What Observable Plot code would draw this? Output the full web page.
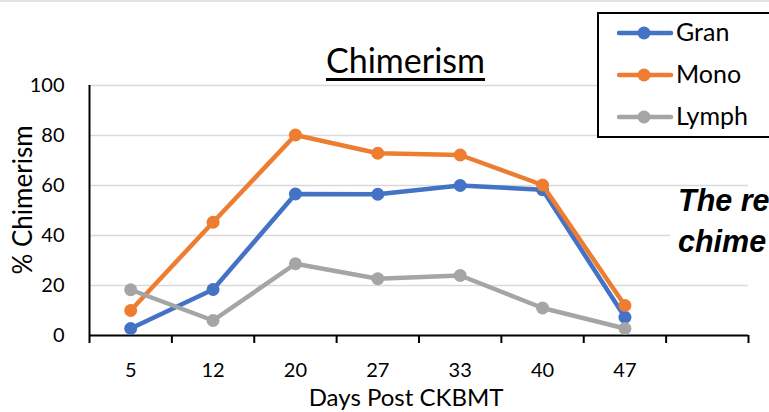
<!DOCTYPE html>
<html><head><meta charset="utf-8">
<script src="https://cdn.jsdelivr.net/npm/d3@7"></script>
<script src="https://cdn.jsdelivr.net/npm/@observablehq/plot@0.6"></script>
<style>
html,body{margin:0;padding:0;background:#fff;overflow:hidden;}
#wrap{position:relative;width:769px;height:412px;overflow:hidden;font-family:Lato,"Open Sans",sans-serif;color:#000;background:#fff;}
#wrap > svg{position:absolute;left:0;top:0;}
.abs{position:absolute;white-space:nowrap;line-height:1;}
</style></head><body><div id="wrap"></div>
<script>
// ---- data ----
const categories = ["5","12","20","27","33","40","47",""];
const gran  = [2.8, 18.4, 56.6, 56.5, 60.0, 58.3, 7.3];
const mono  = [10.0, 45.3, 80.2, 72.9, 72.2, 60.2, 12.0];
const lymph = [18.3, 6.0, 28.7, 22.7, 24.0, 11.0, 2.8];
const yTicks = [0, 20, 40, 60, 80, 100];
const seriesNames = ["Gran", "Mono", "Lymph"];
const seriesColors = ["#4472C4", "#ED7D31", "#A5A5A5"];
const seriesValues = [gran, mono, lymph];

const rows = seriesNames.map((name, s) =>
  seriesValues[s].map((v, i) => ({series: name, idx: i + 0.5, value: v})));

const wrap = document.getElementById("wrap");

const seriesMarks = [];
seriesNames.forEach((name, s) => {
  seriesMarks.push(Plot.line(rows[s], {x: "idx", y: "value", stroke: seriesColors[s], strokeWidth: 4.5, strokeLinejoin: "round", strokeLinecap: "round"}));
  seriesMarks.push(Plot.dot(rows[s], {x: "idx", y: "value", r: 6.5, fill: seriesColors[s], stroke: "none"}));
});

const chart = Plot.plot({
  width: 769, height: 412,
  marginLeft: 89, marginRight: 21, marginTop: 85, marginBottom: 77,
  style: {fontFamily: "Lato, 'Open Sans', sans-serif", fontSize: "20px", color: "#000", background: "transparent", overflow: "visible"},
  x: {type: "linear", domain: [0, categories.length]},
  y: {domain: [0, 100]},
  marks: [
    Plot.gridY(yTicks.slice(1), {stroke: "#d9d9d9", strokeOpacity: 1, strokeWidth: 1.4}),
    Plot.axisY(yTicks, {tickSize: 0, tickPadding: 25, fontSize: 20, label: null}),
    Plot.axisX(d3.range(categories.length + 1), {tickSize: 8, strokeWidth: 2, stroke: "#000", tickFormat: () => "", label: null}),
    Plot.axisX(categories.map((c, i) => i + 0.5).filter((d, i) => categories[i] !== ""),
      {tickSize: 0, tickPadding: 27, fontSize: 20, tickFormat: d => categories[d - 0.5], label: null}),
    Plot.ruleX([0], {stroke: "#000", strokeWidth: 2}),
    Plot.ruleY([0], {stroke: "#000", strokeWidth: 2}),
    ...seriesMarks
  ]
});
wrap.appendChild(chart);

function addDiv(html, css) {
  const d = document.createElement("div");
  d.className = "abs";
  d.innerHTML = html;
  Object.assign(d.style, css);
  wrap.appendChild(d);
  return d;
}

// top edge
addDiv("", {left: "0px", top: "0px", width: "769px", height: "2px", background: "#e3e3e3"});

// title
addDiv("Chimerism", {left: "405.5px", top: "42.8px", fontSize: "34px", transform: "translateX(-50%)",
  textDecoration: "underline", textDecorationThickness: "2.5px", textUnderlineOffset: "5px"});

// y label
addDiv("% Chimerism", {left: "22px", top: "200px", fontSize: "26px", transform: "translate(-50%,-50%) rotate(-90deg)"});

// x label
addDiv("Days Post CKBMT", {left: "406px", top: "384.5px", fontSize: "24px", transform: "translateX(-50%)"});

// right-side text box
addDiv("", {left: "670px", top: "188px", width: "110px", height: "80px", background: "#fff"});
const noteCss = {fontFamily: "'Liberation Sans', Arial, sans-serif", fontWeight: "bold", fontStyle: "italic", fontSize: "30.5px"};
addDiv("The re", Object.assign({left: "678px", top: (211 - 0.8465 * 30.5) + "px"}, noteCss));
addDiv("chime", Object.assign({left: "678px", top: (252 - 0.8465 * 30.5) + "px"}, noteCss));

// legend
addDiv("", {left: "597px", top: "12px", width: "220px", height: "126px", border: "2px solid #000", background: "#fff", boxSizing: "border-box"});
seriesNames.forEach((name, s) => {
  const cy = 33 + 42 * s;
  addDiv(`<svg width="60" height="20" style="display:block"><line x1="2" y1="10" x2="54" y2="10" stroke="${seriesColors[s]}" stroke-width="4.5" stroke-linecap="round"/><circle cx="27" cy="10" r="6.5" fill="${seriesColors[s]}"/></svg>`,
    {left: "617px", top: (cy - 10) + "px"});
  addDiv(name, {left: "676px", top: (cy + 8 - 0.887 * 25) + "px", fontSize: "25px"});
});
</script>
</body></html>
